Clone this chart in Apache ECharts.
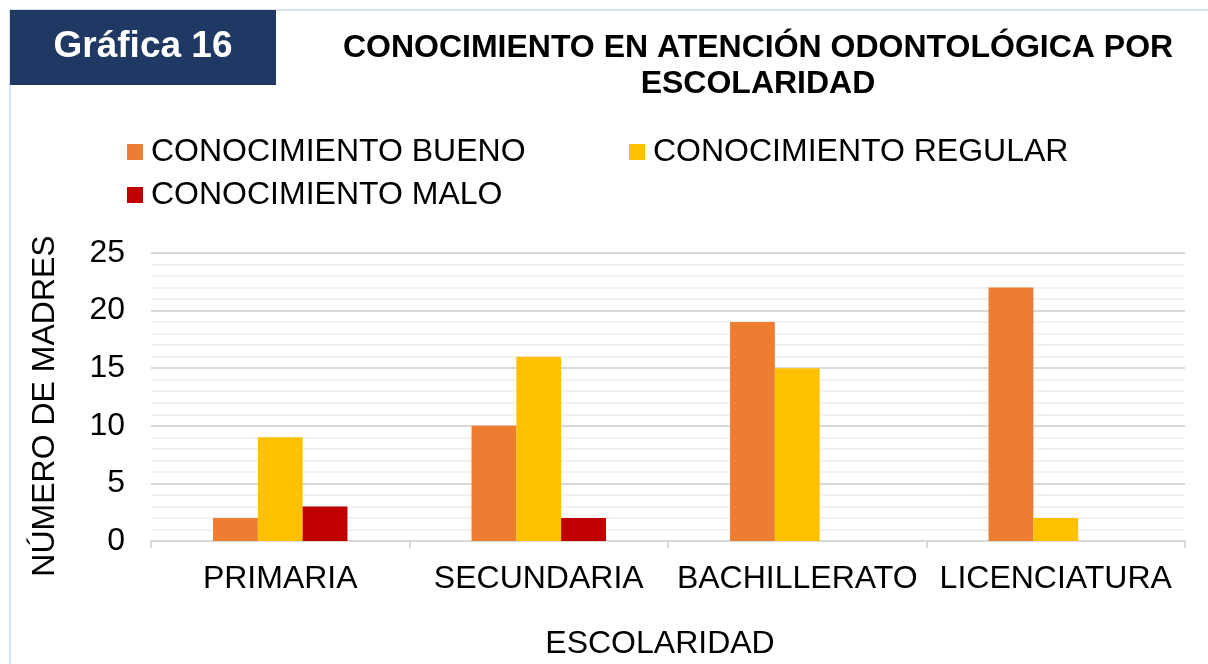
<!DOCTYPE html>
<html>
<head>
<meta charset="utf-8">
<script src="https://cdn.jsdelivr.net/npm/echarts@6/dist/echarts.min.js"></script>
<style>
  html, body { margin: 0; padding: 0; background: #fff; }
  #chart { width: 1208px; height: 664px; }
</style>
</head>
<body>
<div id="chart"></div>
<script>
const categories = ['PRIMARIA', 'SECUNDARIA', 'BACHILLERATO', 'LICENCIATURA']
const bueno = [2, 10, 19, 22]
const regular = [9, 16, 15, 2]
const malo = [3, 2, 0, 0]
const seriesNames = ['CONOCIMIENTO BUENO', 'CONOCIMIENTO REGULAR', 'CONOCIMIENTO MALO']
const colors = ['#ED7D31', '#FFC000', '#C00000']

const font = '"Liberation Sans", Arial, sans-serif'
const chart = echarts.init(document.getElementById('chart'))

const legendItem = (name, left, top) => ({
  data: [name],
  left, top,
  padding: 0,
  icon: 'rect',
  itemWidth: 16,
  itemHeight: 16,
  selectedMode: false,
  textStyle: { fontFamily: font, fontSize: 32, color: '#000', lineHeight: 32, padding: [0, 0, 0, 3] },
})

chart.setOption({
  backgroundColor: '#fff',
  color: colors,
  textStyle: { fontFamily: font },
  graphic: [
    { type: 'rect', shape: { x: 10, y: 10, width: 1300, height: 800 }, style: { fill: 'none', stroke: '#D9E2F3', lineWidth: 2 }, z: 0 },
    { type: 'rect', shape: { x: 10, y: 10, width: 266, height: 75 }, style: { fill: '#203864' }, z: 1 },
    {
      type: 'text', x: 143, y: 47, z: 2,
      style: { text: 'Gráfica 16', fill: '#fff', font: 'bold 37px ' + font, textAlign: 'center', textVerticalAlign: 'middle' },
    },
  ],
  title: {
    text: 'CONOCIMIENTO EN ATENCIÓN ODONTOLÓGICA POR\nESCOLARIDAD',
    left: 758,
    top: 30,
    textAlign: 'center',
    padding: 0,
    textStyle: { fontFamily: font, fontSize: 32, fontWeight: 'bold', color: '#000', lineHeight: 36 },
  },
  legend: [
    legendItem(seriesNames[0], 127, 136),
    legendItem(seriesNames[1], 629, 136),
    legendItem(seriesNames[2], 127, 179),
  ],
  grid: { left: 151, right: 23, top: 253, bottom: 123 },
  xAxis: {
    type: 'category',
    data: categories,
    name: 'ESCOLARIDAD',
    nameLocation: 'middle',
    nameGap: 87,
    nameTextStyle: { fontFamily: font, fontSize: 32, color: '#000', padding: [0, 16, 0, 0] },
    axisLine: { lineStyle: { color: '#D9D9D9', width: 2 } },
    axisTick: { show: true, length: 7, lineStyle: { color: '#D9D9D9', width: 2 } },
    axisLabel: { fontFamily: font, fontSize: 32, color: '#000', margin: 22, interval: 0 },
  },
  yAxis: {
    type: 'value',
    min: 0,
    max: 25,
    interval: 5,
    name: 'NÚMERO DE MADRES',
    nameLocation: 'middle',
    nameGap: 90,
    nameTextStyle: { fontFamily: font, fontSize: 32, color: '#000', padding: [0, 18, 0, 0] },
    axisLine: { show: false },
    axisTick: { show: false },
    axisLabel: { fontFamily: font, fontSize: 32, color: '#000', margin: 26 },
    splitLine: { lineStyle: { color: '#D9D9D9', width: 2 } },
    minorTick: { show: false, splitNumber: 5 },
    minorSplitLine: { show: true, lineStyle: { color: '#F2F2F2', width: 2 } },
  },
  series: [bueno, regular, malo].map((data, i) => ({
    type: 'bar',
    name: seriesNames[i],
    data,
    barGap: '0%',
    barCategoryGap: '48%',
    itemStyle: { color: colors[i] },
  })),
})
</script>
</body>
</html>
